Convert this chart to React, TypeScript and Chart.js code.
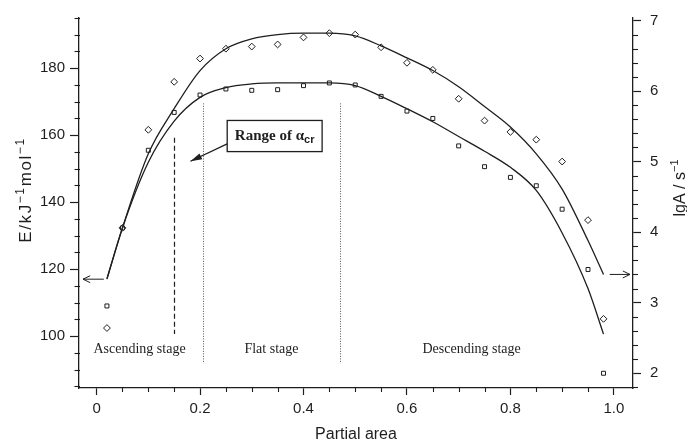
import React, { useEffect, useRef } from 'react';
import { Chart, registerables } from 'chart.js';

Chart.register(...registerables);

// ---- data ----
const partialArea = [0.02, 0.05, 0.1, 0.15, 0.2, 0.25, 0.3, 0.35, 0.4, 0.45, 0.5, 0.55, 0.6, 0.65, 0.7, 0.75, 0.8, 0.85, 0.9, 0.95, 0.98];
// activation energy E (squares, left axis)
const eMeasured = [109.0, 132.3, 155.5, 166.8, 172.0, 173.8, 173.4, 173.6, 174.8, 175.6, 175.0, 171.6, 167.2, 165.0, 156.8, 150.6, 147.4, 144.9, 137.9, 119.9, 88.9];
// lgA (diamonds, right axis)
const lgAMeasured = [2.64, 4.06, 5.45, 6.13, 6.46, 6.60, 6.63, 6.66, 6.76, 6.82, 6.80, 6.62, 6.40, 6.30, 5.89, 5.58, 5.42, 5.31, 5.00, 4.17, 2.77];
// fitted curves
const eFit = [117.0, 132.3, 151.9, 164.2, 171.3, 174.2, 175.3, 175.6, 175.6, 175.6, 174.8, 171.6, 167.9, 164.0, 159.6, 155.2, 150.4, 143.5, 130.8, 114.2, 100.6];
const lgAFit = [3.34, 4.06, 5.11, 5.75, 6.29, 6.60, 6.74, 6.80, 6.82, 6.82, 6.78, 6.64, 6.47, 6.29, 6.06, 5.78, 5.49, 5.11, 4.61, 3.88, 3.40];

const xTicks = [0, 0.2, 0.4, 0.6, 0.8, 1.0];
const xTickLabels = ['0', '0.2', '0.4', '0.6', '0.8', '1.0'];
const eTicks = [100, 120, 140, 160, 180];
const eTickLabels = ['100', '120', '140', '160', '180'];
const aTicks = [2, 3, 4, 5, 6, 7];
const aTickLabels = ['2', '3', '4', '5', '6', '7'];

const stageLabels = ['Ascending stage', 'Flat stage', 'Descending stage'];
const stageCenters = [0.083, 0.338, 0.725];
const stageBounds = [0.206, 0.47];
const alphaCrLine = 0.15;

const SANS = "'Liberation Sans', Arial, sans-serif";
const SERIF = "'Liberation Serif', 'Times New Roman', serif";
const INK = '#1e1e1e';

type Seg = { t: string; sup?: boolean; sub?: boolean; font?: string };

function drawRich(ctx: CanvasRenderingContext2D, segs: Seg[], x: number, y: number, size: number, family: string, rot: number, align: 'center' | 'left', weight = '', spacing = 0) {
  ctx.save();
  ctx.translate(x, y);
  if (rot) ctx.rotate(rot);
  (ctx as any).letterSpacing = `${spacing}px`;
  const fontOf = (s: Seg) => `${weight} ${s.sup || s.sub ? Math.round(size * 0.7) : size}px ${s.font || family}`;
  let total = 0;
  const widths = segs.map((s) => {
    ctx.font = fontOf(s);
    const w = ctx.measureText(s.t).width;
    total += w;
    return w;
  });
  let cx = align === 'center' ? -total / 2 : 0;
  ctx.fillStyle = INK;
  ctx.textBaseline = 'alphabetic';
  ctx.textAlign = 'left';
  segs.forEach((s, i) => {
    ctx.font = fontOf(s);
    const dy = s.sup ? -size * 0.4 : s.sub ? size * 0.2 : 0;
    ctx.fillText(s.t, cx, dy + size * 0.35);
    cx += widths[i];
  });
  ctx.restore();
}

function arrowOpen(ctx: CanvasRenderingContext2D, x1: number, y1: number, x2: number, y2: number) {
  const a = Math.atan2(y2 - y1, x2 - x1);
  const L = 8;
  ctx.beginPath();
  ctx.moveTo(x1, y1);
  ctx.lineTo(x2, y2);
  ctx.moveTo(x2 - L * Math.cos(a - 0.45), y2 - L * Math.sin(a - 0.45));
  ctx.lineTo(x2, y2);
  ctx.lineTo(x2 - L * Math.cos(a + 0.45), y2 - L * Math.sin(a + 0.45));
  ctx.stroke();
}

const decorPlugin = {
  id: 'decor',
  beforeDatasetsDraw(chart: any) {
    const ctx: CanvasRenderingContext2D = chart.ctx;
    const xs = chart.scales.x, yl = chart.scales.yE;
    ctx.save();
    // dotted stage bounds
    ctx.strokeStyle = '#555';
    ctx.lineWidth = 1;
    ctx.setLineDash([1, 1.5]);
    stageBounds.forEach((b) => {
      const px = Math.round(xs.getPixelForValue(b)) + 0.5;
      ctx.beginPath();
      ctx.moveTo(px, yl.getPixelForValue(169.5));
      ctx.lineTo(px, yl.getPixelForValue(91.8));
      ctx.stroke();
    });
    // dashed alpha_cr line
    ctx.strokeStyle = INK;
    ctx.lineWidth = 1.2;
    ctx.setLineDash([5, 3]);
    const dx = Math.round(xs.getPixelForValue(alphaCrLine)) + 0.5;
    ctx.beginPath();
    ctx.moveTo(dx, yl.getPixelForValue(159.2));
    ctx.lineTo(dx, yl.getPixelForValue(100.6));
    ctx.stroke();
    ctx.restore();
  },
  afterDraw(chart: any) {
    const ctx: CanvasRenderingContext2D = chart.ctx;
    const xs = chart.scales.x, yl = chart.scales.yE, yr = chart.scales.yA;
    const ca = chart.chartArea;
    ctx.save();
    ctx.strokeStyle = INK;
    ctx.fillStyle = INK;
    ctx.lineWidth = 1.1;
    ctx.setLineDash([]);
    // minor ticks
    const minor = (vals: number[], f: (v: number) => void) => vals.forEach(f);
    const xm: number[] = [];
    for (let i = 0; i <= 20; i++) if (i % 4 !== 0) xm.push(i * 0.05);
    minor(xm, (v) => {
      const p = Math.round(xs.getPixelForValue(v)) + 0.5;
      ctx.beginPath();
      ctx.moveTo(p, ca.bottom);
      ctx.lineTo(p, ca.bottom + 4);
      ctx.stroke();
    });
    const em: number[] = [];
    for (let v = 85; v <= 195; v += 5) if (v % 20 !== 0) em.push(v);
    minor(em, (v) => {
      const p = Math.round(yl.getPixelForValue(v)) + 0.5;
      ctx.beginPath();
      ctx.moveTo(ca.left - 4.5, p);
      ctx.lineTo(ca.left + 1, p);
      ctx.stroke();
    });
    const am: number[] = [];
    for (let i = 9; i <= 35; i++) if (i % 5 !== 0) am.push(i * 0.2);
    minor(am, (v) => {
      const p = Math.round(yr.getPixelForValue(v)) + 0.5;
      ctx.beginPath();
      ctx.moveTo(ca.right - 1, p);
      ctx.lineTo(ca.right + 5, p);
      ctx.stroke();
    });

    // arrows to axes
    ctx.lineWidth = 1;
    arrowOpen(ctx, xs.getPixelForValue(0.014), yl.getPixelForValue(117), ca.left + 4, yl.getPixelForValue(117));
    arrowOpen(ctx, xs.getPixelForValue(0.992), yr.getPixelForValue(3.4), ca.right - 3, yr.getPixelForValue(3.4));

    // range box
    const bx1 = xs.getPixelForValue(0.2525), bx2 = xs.getPixelForValue(0.436);
    const by1 = yl.getPixelForValue(164.4), by2 = yl.getPixelForValue(155.1);
    ctx.fillStyle = '#fff';
    ctx.fillRect(bx1, by1, bx2 - bx1, by2 - by1);
    ctx.lineWidth = 1.3;
    ctx.strokeRect(bx1, by1, bx2 - bx1, by2 - by1);
    drawRich(ctx, [{ t: 'Range of ' }, { t: 'α', font: SERIF }, { t: 'cr', sub: true, font: SANS }], (bx1 + bx2) / 2, (by1 + by2) / 2 - 1, 15, SERIF, 0, 'center', 'bold');
    // filled arrow from box
    const ax1 = bx1, ay1 = yl.getPixelForValue(157.4);
    const ax2 = xs.getPixelForValue(0.1815), ay2 = yl.getPixelForValue(152.2);
    ctx.lineWidth = 1.2;
    ctx.beginPath();
    ctx.moveTo(ax1, ay1);
    ctx.lineTo(ax2, ay2);
    ctx.stroke();
    const ang = Math.atan2(ay2 - ay1, ax2 - ax1);
    ctx.fillStyle = INK;
    ctx.beginPath();
    ctx.moveTo(ax2, ay2);
    ctx.lineTo(ax2 - 12 * Math.cos(ang - 0.28), ay2 - 12 * Math.sin(ang - 0.28));
    ctx.lineTo(ax2 - 12 * Math.cos(ang + 0.28), ay2 - 12 * Math.sin(ang + 0.28));
    ctx.closePath();
    ctx.fill();

    // stage labels
    ctx.font = `14px ${SERIF}`;
    ctx.textAlign = 'center';
    ctx.textBaseline = 'middle';
    stageLabels.forEach((s, i) => ctx.fillText(s, xs.getPixelForValue(stageCenters[i]), yl.getPixelForValue(95.9)));

    // axis titles
    drawRich(ctx, [{ t: 'Partial area' }], (ca.left + ca.right) / 2, 433, 16, SANS, 0, 'center');
    drawRich(ctx, [{ t: 'E/kJ' }, { t: '−1', sup: true }, { t: 'mol' }, { t: '−1', sup: true }], 25, 190, 17, SANS, -Math.PI / 2, 'center', '', 1.6);
    drawRich(ctx, [{ t: 'lgA / s' }, { t: '−1', sup: true }], 679, 188, 16, SANS, -Math.PI / 2, 'center');
    ctx.restore();
  },
};

const tickFont = { family: SANS, size: 15 };
const gridOpts = { drawOnChartArea: false, drawTicks: true, tickLength: 8, tickColor: INK, tickWidth: 1.2 };
const borderOpts = { color: INK, width: 1.3 };

export default function App() {
  const ref = useRef<HTMLCanvasElement>(null);
  useEffect(() => {
    document.body.style.margin = '0';
    const chart = new Chart(ref.current as HTMLCanvasElement, {
      type: 'scatter',
      data: {
        datasets: [
          {
            label: 'E fit',
            data: partialArea.map((x, i) => ({ x, y: eFit[i] })),
            yAxisID: 'yE',
            showLine: true,
            borderColor: INK,
            borderWidth: 1.3,
            pointRadius: 0,
            cubicInterpolationMode: 'monotone',
          } as any,
          {
            label: 'lgA fit',
            data: partialArea.map((x, i) => ({ x, y: lgAFit[i] })),
            yAxisID: 'yA',
            showLine: true,
            borderColor: INK,
            borderWidth: 1.3,
            pointRadius: 0,
            cubicInterpolationMode: 'monotone',
          } as any,
          {
            label: 'E',
            data: partialArea.map((x, i) => ({ x, y: eMeasured[i] })),
            yAxisID: 'yE',
            pointStyle: 'rect',
            pointRadius: 2.8,
            borderWidth: 1,
            borderColor: INK,
            backgroundColor: '#fff',
          },
          {
            label: 'lgA',
            data: partialArea.map((x, i) => ({ x, y: lgAMeasured[i] })),
            yAxisID: 'yA',
            pointStyle: 'rectRot',
            pointRadius: 3.4,
            borderWidth: 1,
            borderColor: INK,
            backgroundColor: '#fff',
          },
        ],
      },
      options: {
        responsive: false,
        animation: false,
        devicePixelRatio: 1,
        layout: { padding: { top: 11, left: 0, right: 0, bottom: 0 } },
        plugins: { legend: { display: false }, tooltip: { enabled: false } },
        scales: {
          x: {
            type: 'linear',
            position: 'bottom',
            min: -0.034,
            max: 1.037,
            afterBuildTicks: (s: any) => { s.ticks = xTicks.map((v) => ({ value: v })); },
            afterFit: (s: any) => { s.height = 56; },
            ticks: { autoSkip: false, maxRotation: 0, padding: 5, color: INK, font: tickFont, callback: (_v: any, i: number) => xTickLabels[i] },
            grid: { ...gridOpts, tickLength: 7 },
            border: borderOpts,
          },
          yE: {
            type: 'linear',
            position: 'left',
            min: 84.5,
            max: 195,
            afterBuildTicks: (s: any) => { s.ticks = eTicks.map((v) => ({ value: v })); },
            afterFit: (s: any) => { s.width = 79; },
            ticks: { autoSkip: false, padding: 5, color: INK, font: tickFont, callback: (_v: any, i: number) => eTickLabels[i] },
            grid: { ...gridOpts, tickLength: 9 },
            border: borderOpts,
          },
          yA: {
            type: 'linear',
            position: 'right',
            min: 1.79,
            max: 7.035,
            afterBuildTicks: (s: any) => { s.ticks = aTicks.map((v) => ({ value: v })); },
            afterFit: (s: any) => { s.width = 54; },
            ticks: { autoSkip: false, padding: 9, color: INK, font: tickFont, callback: (_v: any, i: number) => aTickLabels[i] },
            grid: { ...gridOpts, tickLength: 8 },
            border: borderOpts,
          },
        },
      },
      plugins: [decorPlugin],
    } as any);
    return () => chart.destroy();
  }, []);
  return <canvas ref={ref} width={687} height={444} style={{ display: 'block', width: '687px', height: '444px' }} />;
}
